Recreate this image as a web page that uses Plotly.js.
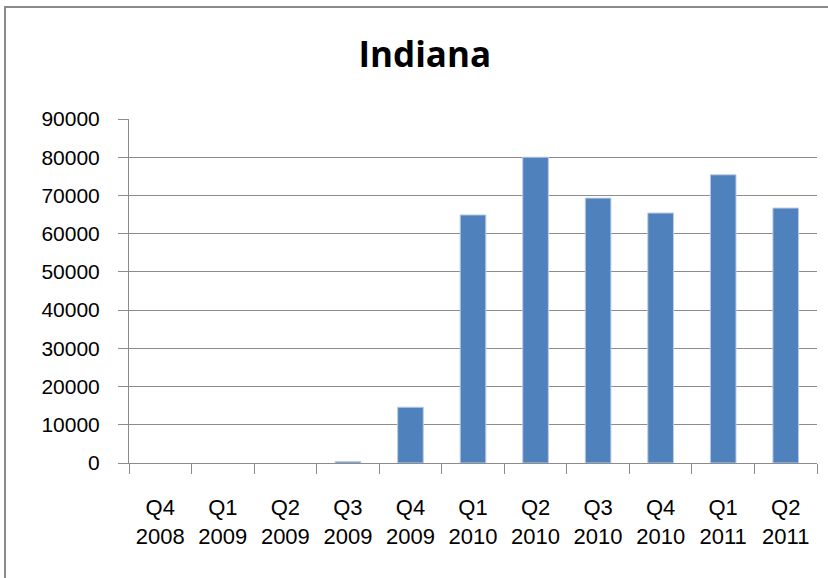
<!DOCTYPE html>
<html>
<head>
<meta charset="utf-8">
<script src="https://cdn.plot.ly/plotly-3.0.1.min.js"></script>
<style>
  html, body { margin: 0; padding: 0; background: #fff; }
  #wrap { position: relative; width: 828px; height: 578px; overflow: hidden; }
  #chart { position: absolute; left: 0; top: 0; width: 828px; height: 578px; }
  #frame { position: absolute; left: 4px; top: 6px; width: 840px; height: 600px;
           border-left: 2px solid #8a8a8a; border-top: 2px solid #8a8a8a; pointer-events: none; }
</style>
</head>
<body>
<div id="wrap">
  <div id="chart"></div>
  <div id="frame"></div>
</div>
<script>
const chartTitle = "Indiana";
const quarters = ["Q4", "Q1", "Q2", "Q3", "Q4", "Q1", "Q2", "Q3", "Q4", "Q1", "Q2"];
const years = ["2008", "2009", "2009", "2009", "2009", "2010", "2010", "2010", "2010", "2011", "2011"];
const values = [null, null, null, 400, 14600, 64900, 80000, 69300, 65400, 75400, 66700];
const yTicks = [0, 10000, 20000, 30000, 40000, 50000, 60000, 70000, 80000, 90000];

const categories = quarters.map((q, i) => q + "<br>" + years[i]);
const gridColor = "#8c8c8c";

const trace = {
  type: "bar",
  x: categories,
  y: values,
  marker: { color: "#4F81BD", line: { color: "#b9cde5", width: 1 } },
  hoverinfo: "x+y"
};

const layout = {
  width: 828,
  height: 578,
  margin: { l: 129, r: 11, t: 119, b: 115 },
  paper_bgcolor: "#ffffff",
  plot_bgcolor: "#ffffff",
  showlegend: false,
  bargap: 0.59,
  title: {
    text: chartTitle,
    font: { family: "Open Sans, sans-serif", size: 35, color: "#000000", weight: "bold" },
    x: 0.513, xref: "container", xanchor: "center",
    y: 0.905, yref: "container", yanchor: "middle"
  },
  xaxis: {
    type: "category",
    tickson: "boundaries",
    ticks: "outside",
    ticklen: 10,
    tickcolor: gridColor,
    tickwidth: 1,
    showline: true,
    linecolor: gridColor,
    linewidth: 1,
    showgrid: false,
    tickangle: 0,
    ticklabelstandoff: 25,
    tickfont: { family: "Liberation Sans, Arial, sans-serif", size: 22, color: "#000000" },
    fixedrange: true
  },
  yaxis: {
    range: [0, 90000],
    tickvals: yTicks,
    ticktext: yTicks.map(String),
    ticks: "outside",
    ticklen: 10,
    tickcolor: gridColor,
    tickwidth: 1,
    showline: true,
    linecolor: gridColor,
    linewidth: 1,
    showgrid: true,
    gridcolor: gridColor,
    gridwidth: 1,
    zeroline: false,
    ticklabelstandoff: 14,
    tickfont: { family: "Liberation Sans, Arial, sans-serif", size: 21, color: "#000000" },
    fixedrange: true
  }
};

Plotly.newPlot("chart", [trace], layout, { displayModeBar: false, staticPlot: true });
</script>
</body>
</html>
